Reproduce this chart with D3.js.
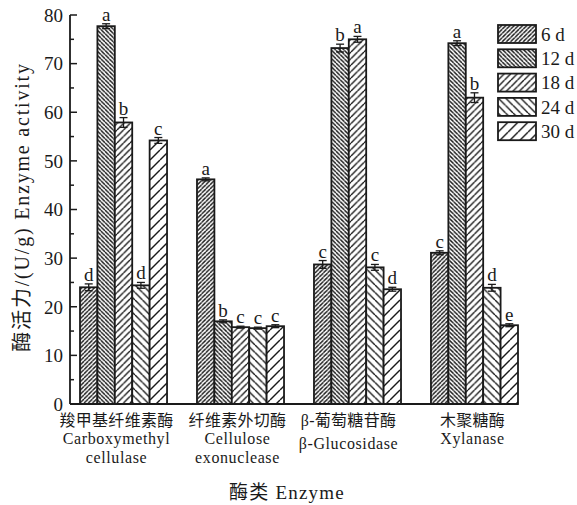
<!DOCTYPE html>
<html><head><meta charset="utf-8">
<script src="https://cdn.jsdelivr.net/npm/d3@7"></script>
<style>body{margin:0;background:#fff}svg{display:block}</style>
</head><body>
<script>
const categories = ["CMC", "EXO", "GLU", "XYL"];
const catLabels = [
  ["羧甲基纤维素酶", "Carboxymethyl", "cellulase"],
  ["纤维素外切酶", "Cellulose", "exonuclease"],
  ["β-葡萄糖苷酶", "β-Glucosidase"],
  ["木聚糖酶", "Xylanase"]
];
const series = ["6 d", "12 d", "18 d", "24 d", "30 d"];
const values = {
  "6 d":  [24.0, 46.2, 28.7, 31.1],
  "12 d": [77.7, 17.0, 73.2, 74.2],
  "18 d": [57.9, 15.8, 75.0, 63.0],
  "24 d": [24.4, 15.6, 28.1, 23.9],
  "30 d": [54.2, 16.0, 23.6, 16.2]
};
const errors = {
  "6 d":  [0.7, 0.3, 0.8, 0.4],
  "12 d": [0.5, 0.3, 0.8, 0.5],
  "18 d": [1.0, 0.2, 0.6, 1.0],
  "24 d": [0.6, 0.2, 0.6, 0.7],
  "30 d": [0.6, 0.3, 0.4, 0.3]
};
const letters = {
  "6 d":  ["d", "a", "c", "c"],
  "12 d": ["a", "b", "b", "a"],
  "18 d": ["b", "c", "a", "b"],
  "24 d": ["d", "c", "c", "d"],
  "30 d": ["c", "c", "d", "e"]
};
const yTicks = [0, 10, 20, 30, 40, 50, 60, 70, 80];

const W = 577, H = 505;
const svg = d3.select("body").append("svg").attr("width", W).attr("height", H);
const serif = "'Liberation Serif','DejaVu Serif',serif";
const cjk = "'Liberation Serif','Noto Sans CJK SC',serif";
const ink = "#1a1a1a";

// patterns
const defs = svg.append("defs");
const pat = [
  {dir: 1, s: 4.2},
  {dir: -1, s: 4.2},
  {dir: 1, s: 6.5},
  {dir: -1, s: 7.5},
  {dir: 1, s: 10}
];
pat.forEach((p, i) => {
  const s = p.s;
  const g = defs.append("pattern").attr("id", "p" + i)
    .attr("patternUnits", "userSpaceOnUse").attr("width", s).attr("height", s);
  g.append("rect").attr("width", s).attr("height", s).attr("fill", "#fff");
  const segs = p.dir === 1
    ? [[0, s, s, 0], [-s, s, 0, 0], [s, s, 2 * s, 0]]
    : [[0, 0, s, s], [-s, 0, 0, s], [s, 0, 2 * s, s]];
  segs.forEach(d => g.append("line").attr("x1", d[0]).attr("y1", d[1]).attr("x2", d[2]).attr("y2", d[3])
    .attr("stroke", ink).attr("stroke-width", 1.4));
});

const y = d3.scaleLinear().domain([0, 80]).range([404, 15]);
const x0 = d3.scaleBand().domain(categories).range([80, 518]).paddingInner(0.256).paddingOuter(0);
const x1 = d3.scaleBand().domain(series).range([0, x0.bandwidth()]);

// bars
series.forEach((s, si) => {
  categories.forEach((c, ci) => {
    const v = values[s][ci], e = errors[s][ci];
    const bx = x0(c) + x1(s), bw = x1.bandwidth();
    svg.append("rect").attr("x", bx).attr("y", y(v)).attr("width", bw).attr("height", y(0) - y(v))
      .attr("fill", "url(#p" + si + ")").attr("stroke", ink).attr("stroke-width", 1.8);
    const cx = bx + bw / 2;
    const eg = svg.append("g").attr("stroke", ink).attr("stroke-width", 1.3);
    eg.append("line").attr("x1", cx).attr("x2", cx).attr("y1", y(v - e)).attr("y2", y(v + e));
    eg.append("line").attr("x1", cx - 4).attr("x2", cx + 4).attr("y1", y(v + e)).attr("y2", y(v + e));
    eg.append("line").attr("x1", cx - 4).attr("x2", cx + 4).attr("y1", y(v - e)).attr("y2", y(v - e));
    svg.append("text").attr("x", cx).attr("y", y(v + e) - 3).attr("text-anchor", "middle")
      .attr("font-family", serif).attr("font-size", 19).attr("fill", ink).text(letters[s][ci]);
  });
});

// y axis
const ax = svg.append("g").attr("transform", "translate(70,0)");
ax.append("line").attr("x1", 0).attr("x2", 0).attr("y1", y(0)).attr("y2", y(80)).attr("stroke", ink).attr("stroke-width", 1.8);
d3.range(0, 81, 5).forEach(v => {
  ax.append("line").attr("x1", 0).attr("x2", v % 10 === 0 ? 7 : 4).attr("y1", y(v)).attr("y2", y(v))
    .attr("stroke", ink).attr("stroke-width", 1.5);
});
yTicks.forEach(v => {
  ax.append("text").attr("x", -7).attr("y", y(v)).attr("dy", "0.36em").attr("text-anchor", "end")
    .attr("font-family", serif).attr("font-size", 19).attr("fill", ink).text(v);
});
// x baseline
svg.append("line").attr("x1", 70).attr("x2", 518).attr("y1", y(0)).attr("y2", y(0)).attr("stroke", ink).attr("stroke-width", 1.8);

// category labels
const labelShift = [-7, -3, -9, -2];
categories.forEach((c, ci) => {
  const cx = x0(c) + x0.bandwidth() / 2 + labelShift[ci];
  const lines = catLabels[ci];
  const ys = ci === 2 ? [426, 449] : [426, 444, 463];
  lines.forEach((t, li) => {
    svg.append("text").attr("x", cx).attr("y", ys[li]).attr("text-anchor", "middle")
      .attr("font-family", li === 0 ? cjk : serif).attr("font-size", 16).attr("letter-spacing", li === 0 ? 0.3 : 0.6)
      .attr("fill", ink).text(t);
  });
});

// axis titles
svg.append("text").attr("x", 287).attr("y", 499).attr("text-anchor", "middle")
  .attr("font-family", cjk).attr("font-size", 19).attr("letter-spacing", 1.2).attr("fill", ink).text("酶类 Enzyme");
svg.append("text").attr("transform", "translate(29,207) rotate(-90)").attr("text-anchor", "middle")
  .attr("font-family", cjk).attr("font-size", 20).attr("letter-spacing", 1.8).attr("fill", ink).text("酶活力/(U/g) Enzyme activity");

// legend
const lg = svg.append("g").attr("transform", "translate(498,25)");
series.forEach((s, i) => {
  const g = lg.append("g").attr("transform", `translate(0,${i * 24.3})`);
  g.append("rect").attr("width", 38).attr("height", 18).attr("fill", "url(#p" + i + ")")
    .attr("stroke", ink).attr("stroke-width", 1.8);
  g.append("text").attr("x", 43).attr("y", 9).attr("dy", "0.36em").attr("font-family", serif)
    .attr("font-size", 19).attr("fill", ink).text(s);
});
</script>
</body></html>
